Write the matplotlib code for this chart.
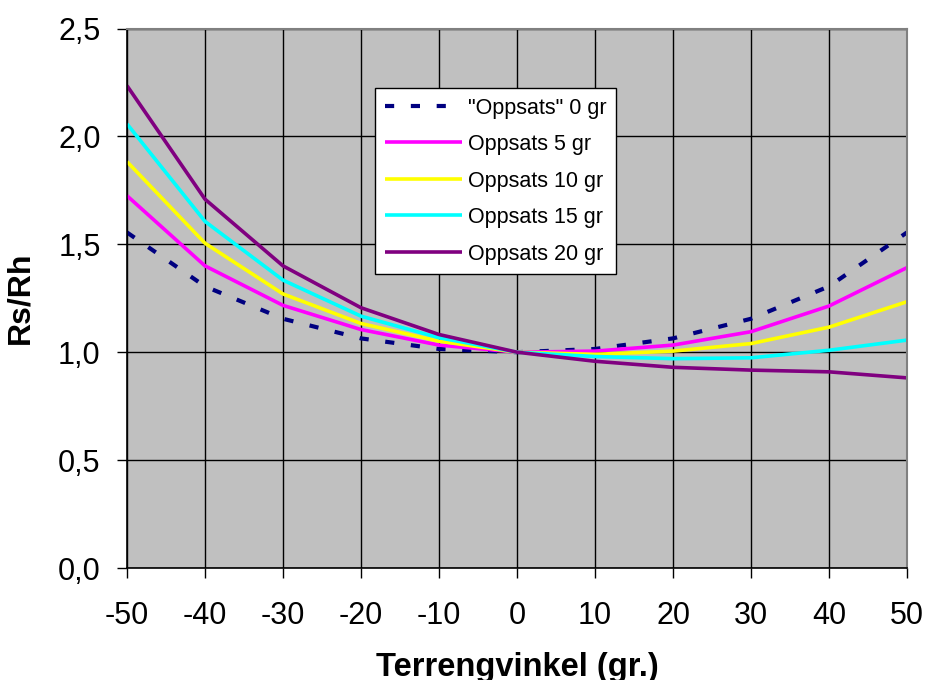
import numpy as np
import matplotlib
matplotlib.use("Agg")
import matplotlib.pyplot as plt
from matplotlib.ticker import FuncFormatter, MultipleLocator

plt.rcParams.update({"font.family": ["Liberation Sans", "DejaVu Sans"],
                     "axes.unicode_minus": False})

# terrain angle (degrees) and Rs/Rh per ramp angle
vinkel = [-50, -40, -30, -20, -10, 0, 10, 20, 30, 40, 50]
opps0 = [1.555, 1.305, 1.155, 1.064, 1.015, 1.0, 1.015, 1.064, 1.155, 1.305, 1.555]
opps5 = [1.725, 1.40, 1.217, 1.105, 1.033, 1.0, 1.005, 1.033, 1.095, 1.214, 1.392]
opps10 = [1.883, 1.505, 1.27, 1.133, 1.051, 1.0, 0.99, 1.005, 1.04, 1.116, 1.234]
opps15 = [2.058, 1.606, 1.334, 1.167, 1.067, 1.0, 0.98, 0.97, 0.974, 1.009, 1.056]
opps20 = [2.235, 1.709, 1.40, 1.206, 1.082, 1.0, 0.958, 0.93, 0.917, 0.909, 0.881]

labels = ['"Oppsats" 0 gr', "Oppsats 5 gr", "Oppsats 10 gr",
          "Oppsats 15 gr", "Oppsats 20 gr"]
colors = ["#000080", "#FF00FF", "#FFFF00", "#00FFFF", "#800080"]

fig = plt.figure(figsize=(9.27, 6.8), dpi=100)
ax = fig.add_axes([127 / 927, 1 - 568 / 680, 780 / 927, 539.5 / 680])
ax.set_facecolor("#C0C0C0")

lw = 2.6
ax.plot(vinkel, opps0, color=colors[0], lw=3.0, dashes=(2.2, 4.0),
        dash_capstyle="butt", label=labels[0])
for ys, c, lab in zip([opps5, opps10, opps15, opps20], colors[1:], labels[1:]):
    ax.plot(vinkel, ys, color=c, lw=lw, label=lab, solid_capstyle="butt")

ax.set_xlim(-50, 50)
ax.set_ylim(0, 2.5)
ax.xaxis.set_major_locator(MultipleLocator(10))
ax.yaxis.set_major_locator(MultipleLocator(0.5))
ax.yaxis.set_major_formatter(FuncFormatter(lambda v, p: f"{v:.1f}".replace(".", ",")))
ax.grid(True, color="black", lw=1.0)
ax.set_axisbelow(True)

for s in ("top", "right"):
    ax.spines[s].set_color("#808080")
    ax.spines[s].set_linewidth(1.5)
for s in ("left", "bottom"):
    ax.spines[s].set_color("black")
    ax.spines[s].set_linewidth(1.2)

ax.tick_params(axis="both", direction="out", length=7, width=1, labelsize=22)
ax.tick_params(axis="x", pad=17)
ax.tick_params(axis="y", pad=12)

ax.set_xlabel("Terrengvinkel (gr.)", fontsize=23.5, fontweight="bold", labelpad=15)
ax.set_ylabel("Rs/Rh", fontsize=23, fontweight="bold", labelpad=16)

leg = ax.legend(loc="upper left", bbox_to_anchor=(0.318, 0.890), borderaxespad=0,
                fontsize=15.5, frameon=True, fancybox=False, framealpha=1,
                edgecolor="black", handlelength=3.6, handletextpad=0.25,
                labelspacing=0.72, borderpad=0.45)
leg.get_frame().set_linewidth(1.0)

fig.savefig("out.png", dpi=100)
